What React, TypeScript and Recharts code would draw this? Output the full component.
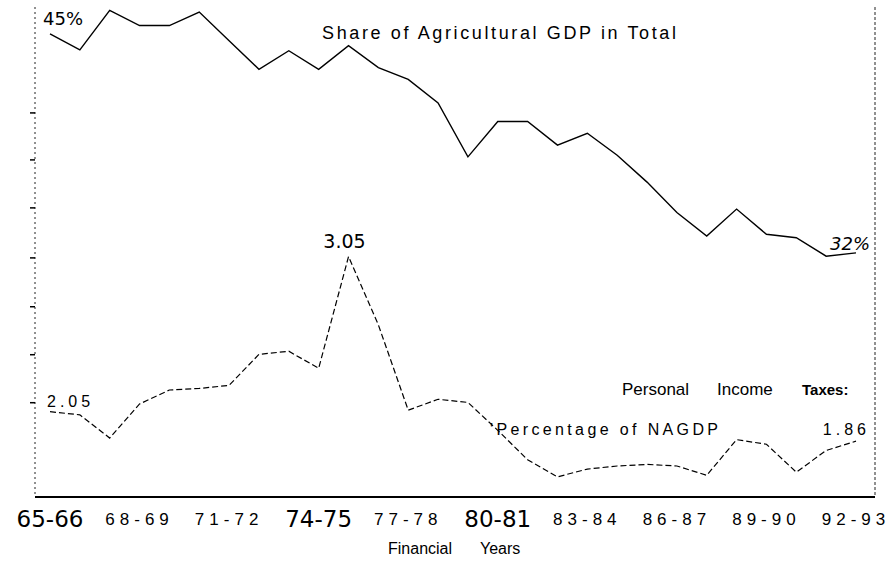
import { LineChart, Line, XAxis, YAxis, Customized } from 'recharts';

const years = [
  '65-66', '66-67', '67-68', '68-69', '69-70', '70-71', '71-72', '72-73', '73-74', '74-75',
  '75-76', '76-77', '77-78', '78-79', '79-80', '80-81', '81-82', '82-83', '83-84', '84-85',
  '85-86', '86-87', '87-88', '88-89', '89-90', '90-91', '91-92', '92-93',
];

// share of agricultural GDP in total (%)
const agriShare = [
  45, 44.05, 46.4, 45.5, 45.5, 46.3, 44.6, 42.9, 44.0, 42.9,
  44.3, 43.0, 42.3, 40.9, 37.7, 39.8, 39.8, 38.4, 39.1, 37.8,
  36.2, 34.4, 33.0, 34.6, 33.1, 32.9, 31.8, 32,
];

// personal income taxes as percentage of NAGDP
const taxShare = [
  2.05, 2.03, 1.88, 2.1, 2.19, 2.2, 2.22, 2.42, 2.44, 2.33,
  3.05, 2.61, 2.06, 2.13, 2.11, 1.93, 1.74, 1.63, 1.68, 1.7,
  1.71, 1.7, 1.64, 1.87, 1.84, 1.66, 1.8, 1.86,
];

const agriTicks = [23.1, 25.95, 28.8, 31.7, 34.67, 37.52, 40.31];
const bigYears = ['65-66', '74-75', '80-81'];

const data = years.map((year, i) => ({ year, agri: agriShare[i], tax: taxShare[i] }));
const last = years.length - 1;

function YearTick({ x, y, payload }: any) {
  const big = bigYears.includes(payload.value);
  return (
    <text
      x={x}
      y={y + (big ? 22 : 20)}
      textAnchor="middle"
      fontFamily={big ? 'DejaVu Sans' : 'Liberation Sans'}
      fontSize={big ? 23 : 17}
      letterSpacing={big ? 0 : 5}
      fill="#000"
    >
      {payload.value}
    </text>
  );
}

const NoTick = () => <g />;

function AgriDot({ cx, cy, index }: any) {
  if (index === 0)
    return (
      <text key="ad0" x={cx - 7} y={cy - 9} fontFamily="DejaVu Sans" fontSize={18} fill="#000">
        {agriShare[0]}%
      </text>
    );
  if (index === last)
    return (
      <text key="adl" x={cx + 14} y={cy - 3} textAnchor="end" fontFamily="DejaVu Sans" fontSize={18} fontStyle="italic" fill="#000">
        {agriShare[last]}%
      </text>
    );
  return <g key={`ad${index}`} />;
}

function TaxDot({ cx, cy, index }: any) {
  if (index === 0)
    return (
      <text key="td0" x={cx - 3} y={cy - 5} fontFamily="Liberation Sans" fontSize={16} letterSpacing={4} fill="#000">
        {taxShare[0].toFixed(2)}
      </text>
    );
  if (index === 10)
    return (
      <text key="tdp" x={cx - 4} y={cy - 9} textAnchor="middle" fontFamily="DejaVu Sans" fontSize={19} fill="#000">
        {taxShare[10].toFixed(2)}
      </text>
    );
  if (index === last)
    return (
      <text key="tdl" x={cx + 14} y={cy - 6} textAnchor="end" fontFamily="Liberation Sans" fontSize={16} letterSpacing={4} fill="#000">
        {taxShare[last].toFixed(2)}
      </text>
    );
  return <g key={`td${index}`} />;
}

function Notes() {
  return (
    <g fill="#000">
      <text x={322} y={39} fontFamily="Liberation Sans" fontSize={18} textLength={354} lengthAdjust="spacing">
        Share of Agricultural GDP in Total
      </text>
      <text y={395} fontFamily="Liberation Sans" fontSize={17}>
        <tspan x={622}>Personal</tspan>
        <tspan x={717}>Income</tspan>
        <tspan x={802} fontWeight="bold" fontSize={15}>Taxes:</tspan>
      </text>
      <text x={490} y={435} fontFamily="Liberation Sans" fontSize={16} textLength={228} lengthAdjust="spacing">
        'Percentage of NAGDP
      </text>
      <text y={554} fontFamily="Liberation Sans" fontSize={16}>
        <tspan x={388}>Financial</tspan>
        <tspan x={480}>Years</tspan>
      </text>
    </g>
  );
}

export default function App() {
  return (
    <div style={{ position: 'absolute', left: 0, top: 0, background: '#fff' }}>
      <LineChart width={894} height={565} data={data} margin={{ top: 7, right: 0, bottom: 0, left: 0 }}>
        <XAxis
          dataKey="year"
          height={68}
          interval={2}
          padding={{ left: 15, right: 19 }}
          tickLine={false}
          axisLine={{ stroke: '#000', strokeWidth: 2 }}
          tick={<YearTick />}
        />
        <XAxis
          xAxisId="top"
          dataKey="year"
          orientation="top"
          height={0}
          padding={{ left: 15, right: 19 }}
          tick={false}
          tickLine={false}
          axisLine={{ stroke: '#000', strokeWidth: 2 }}
        />
        <YAxis
          yAxisId="agri"
          width={35}
          domain={[17.5, 46.6]}
          ticks={agriTicks}
          tick={NoTick}
          tickSize={5}
          tickLine={{ stroke: '#000', strokeWidth: 1.5 }}
          axisLine={{ stroke: '#222', strokeDasharray: '2 3' }}
        />
        <YAxis
          yAxisId="tax"
          orientation="right"
          width={19}
          domain={[1.5, 4.66]}
          tick={false}
          tickLine={false}
          axisLine={{ stroke: '#222', strokeDasharray: '3 2' }}
        />
        <Line
          yAxisId="agri"
          dataKey="agri"
          stroke="#000"
          strokeWidth={1.4}
          dot={AgriDot}
          activeDot={false}
          isAnimationActive={false}
        />
        <Line
          yAxisId="tax"
          dataKey="tax"
          stroke="#000"
          strokeWidth={1.2}
          strokeDasharray="6 3"
          dot={TaxDot}
          activeDot={false}
          isAnimationActive={false}
        />
        <Customized component={Notes} />
      </LineChart>
    </div>
  );
}
